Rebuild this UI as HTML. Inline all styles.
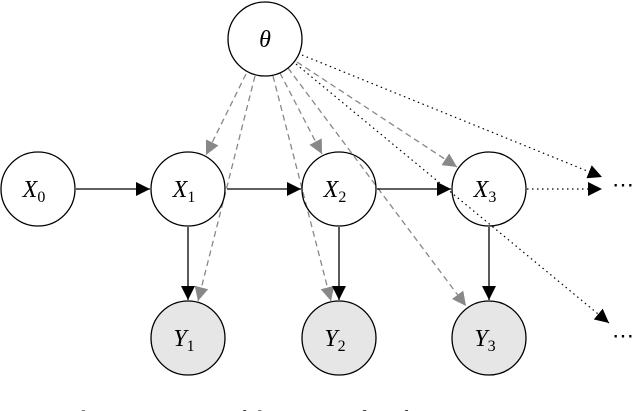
<!DOCTYPE html>
<html><head><style>body{margin:0;background:#fff}</style></head><body>
<svg width="640" height="411" viewBox="0 0 640 411" xmlns="http://www.w3.org/2000/svg" style="display:block">
<defs>
<marker id="b" viewBox="0 0 10 10" refX="10" refY="5" markerWidth="14" markerHeight="14" markerUnits="userSpaceOnUse" orient="auto"><path d="M0,0L10,5L0,10z" fill="#000"/></marker>
<marker id="g" viewBox="0 0 10 10" refX="10" refY="5" markerWidth="14" markerHeight="14" markerUnits="userSpaceOnUse" orient="auto"><path d="M0,0L10,5L0,10z" fill="#888"/></marker>
</defs>
<g stroke="#888" stroke-width="1.3" stroke-dasharray="6,4" fill="none" marker-end="url(#g)">
<line x1="246" y1="74" x2="206" y2="155"/>
<line x1="255" y1="76" x2="198" y2="301"/>
<line x1="273" y1="76" x2="331" y2="301"/>
<line x1="280" y1="73" x2="322" y2="154"/>
<line x1="288" y1="68" x2="466" y2="306"/>
<line x1="297" y1="62" x2="457" y2="167"/>
</g>
<g stroke="#000" stroke-width="1.2" stroke-dasharray="1.5,3.5" fill="none" marker-end="url(#b)">
<line x1="302" y1="55" x2="602" y2="177"/>
<line x1="296" y1="64" x2="609" y2="323"/>
<line x1="527" y1="189" x2="602" y2="189"/>
</g>
<g stroke="#000" stroke-width="1.3" fill="none" marker-end="url(#b)">
<line x1="76" y1="189" x2="150" y2="189"/>
<line x1="227" y1="189" x2="301" y2="189"/>
<line x1="377" y1="189" x2="451" y2="189"/>
<line x1="188" y1="227" x2="188" y2="300"/>
<line x1="339" y1="227" x2="339" y2="300"/>
<line x1="489" y1="227" x2="489" y2="300"/>
</g>
<g stroke="#000" stroke-width="1.3">
<circle cx="265" cy="39" r="37" fill="none"/>
<circle cx="38" cy="189" r="37" fill="#fff"/>
<circle cx="188" cy="189" r="37" fill="none"/>
<circle cx="339" cy="189" r="37" fill="none"/>
<circle cx="489" cy="189" r="37" fill="none"/>
<circle cx="188" cy="338" r="37" fill="#e6e6e6"/>
<circle cx="339" cy="338" r="37" fill="#e6e6e6"/>
<circle cx="489" cy="338" r="37" fill="#e6e6e6"/>
</g>
<g font-family="'Liberation Serif', serif" font-style="italic" font-size="24" text-anchor="middle">
<text x="265" y="47">θ</text>
<text x="34" y="197">X<tspan font-style="normal" font-size="16" dy="5">0</tspan></text>
<text x="184" y="197">X<tspan font-style="normal" font-size="16" dy="5">1</tspan></text>
<text x="335" y="197">X<tspan font-style="normal" font-size="16" dy="5">2</tspan></text>
<text x="485" y="197">X<tspan font-style="normal" font-size="16" dy="5">3</tspan></text>
<text x="184" y="346">Y<tspan font-style="normal" font-size="16" dy="5">1</tspan></text>
<text x="335" y="346">Y<tspan font-style="normal" font-size="16" dy="5">2</tspan></text>
<text x="485" y="346">Y<tspan font-style="normal" font-size="16" dy="5">3</tspan></text>
</g>
<g font-family="'Liberation Serif', serif" font-size="22">
<text x="612" y="192">⋯</text>
<text x="612" y="343">⋯</text>
<text x="0" y="426" font-size="22">A network representation of the system identification</text>
</g>
</svg>
</body></html>
